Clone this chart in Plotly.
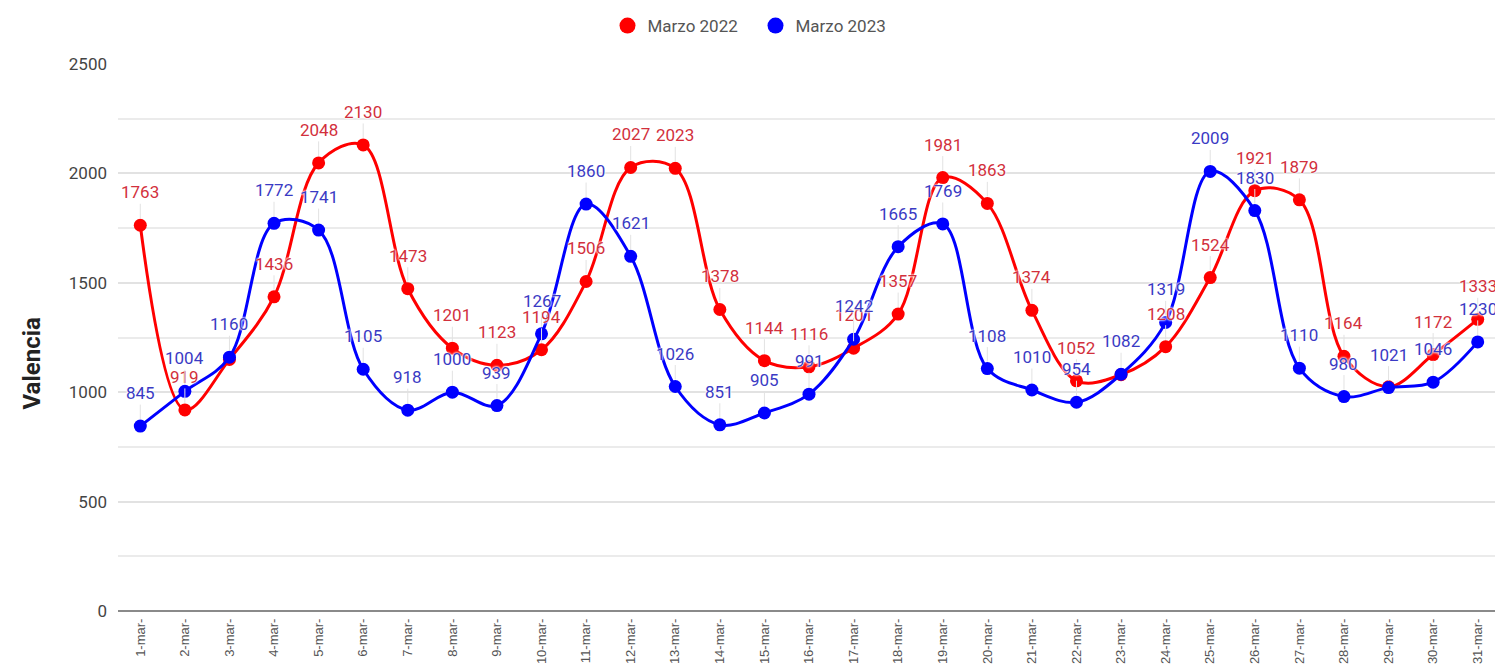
import plotly.graph_objects as go

days = [f"{d}-mar-" for d in range(1, 32)]
marzo_2022 = [1763, 919, 1150, 1436, 2048, 2130, 1473, 1201, 1123, 1194, 1506, 2027, 2023, 1378,
              1144, 1116, 1201, 1357, 1981, 1863, 1374, 1052, 1080, 1208, 1524, 1921, 1879, 1164,
              1025, 1172, 1333]
marzo_2023 = [845, 1004, 1160, 1772, 1741, 1105, 918, 1000, 939, 1267, 1860, 1621, 1026, 851,
              905, 991, 1242, 1665, 1769, 1108, 1010, 954, 1082, 1319, 2009, 1830, 1110, 980,
              1021, 1046, 1230]
# days whose label is not shown in the reference (hidden by overlap)
hidden_2022 = {"3-mar-", "23-mar-", "29-mar-"}
hidden_2023 = set()

series_names = ["Marzo 2022", "Marzo 2023"]
series_colors = ["#ff0000", "#0000ff"]
label_colors = ["#d2303c", "#3a3ac4"]
y_title = "Valencia"

fig = go.Figure()
for name, vals, col in zip(series_names, [marzo_2022, marzo_2023], series_colors):
    fig.add_trace(go.Scatter(
        x=days, y=vals, name=name, mode="lines+markers", showlegend=False,
        line=dict(color=col, width=3, shape="spline", smoothing=1.0),
        marker=dict(color=col, size=13),
        cliponaxis=False,
    ))
# legend-only entries (circle symbols)
for name, col in zip(series_names, series_colors):
    fig.add_trace(go.Scatter(x=[None], y=[None], name=name, mode="markers",
                             marker=dict(color=col, size=16)))

annotations = []
for vals, lcol, hidden in zip([marzo_2022, marzo_2023], label_colors, [hidden_2022, hidden_2023]):
    for d, v in zip(days, vals):
        if d in hidden:
            continue
        annotations.append(dict(
            x=d, y=v, xref="x", yref="y", text=str(v),
            showarrow=True, arrowhead=0, arrowwidth=1, arrowcolor="#e2e2e2",
            ax=0, ay=-33, standoff=7, startstandoff=0,
            font=dict(family="Roboto", size=17, color=lcol,
                      shadow="0 0 2px white, 0 0 2px white, 0 0 3px white"),
        ))
# y-axis title (placed like the reference, slightly below the plot centre)
annotations.append(dict(
    text=f"<b>{y_title}</b>", xref="paper", yref="paper", x=-0.062, y=0.453,
    xanchor="center", yanchor="middle", textangle=-90, showarrow=False,
    font=dict(family="Roboto", size=24, color="#222"),
))

fig.update_layout(
    width=1495, height=664,
    margin=dict(l=110, r=3, t=56, b=61),
    paper_bgcolor="white", plot_bgcolor="white",
    font=dict(family="Roboto", color="#444"),
    showlegend=True,
    legend=dict(orientation="h", xref="container", x=0.5, xanchor="center",
                yref="container", y=1.0, yanchor="top",
                font=dict(size=17, color="#555"), itemsizing="trace",
                traceorder="normal", entrywidth=103),
    xaxis=dict(type="category", range=[-0.5, 30.5], tickangle=-90,
               tickfont=dict(size=13, color="#555", family="Arial"),
               showgrid=False, showline=False, ticks="", ticklabelstandoff=4),
    yaxis=dict(range=[0, 2500], dtick=500, tickfont=dict(size=17, color="#444"),
               showgrid=True, gridcolor="#e2e2e2", gridwidth=1.5,
               zeroline=True, zerolinecolor="#8a8a8a", zerolinewidth=2,
               minor=dict(dtick=250, showgrid=True, gridcolor="#ebebeb", gridwidth=1.5),
               ticklabelstandoff=10),
    annotations=annotations,
)
fig.write_html("out.html")
